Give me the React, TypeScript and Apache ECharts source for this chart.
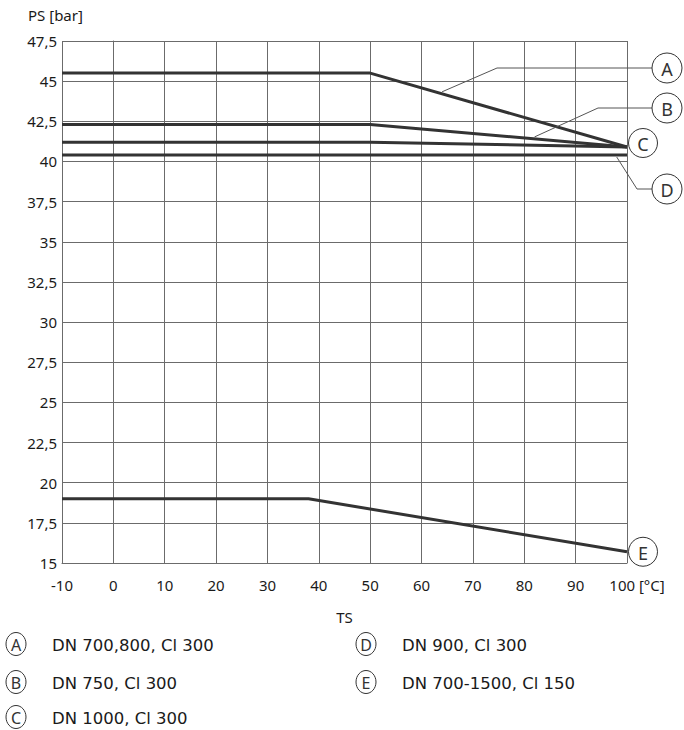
import React, { useEffect, useRef } from "react";
import * as echarts from "echarts";

const xTicks = [-10, 0, 10, 20, 30, 40, 50, 60, 70, 80, 90, 100];
const yTicks = [15, 17.5, 20, 22.5, 25, 27.5, 30, 32.5, 35, 37.5, 40, 42.5, 45, 47.5];

const seriesA = [[-10, 45.5], [50, 45.5], [100, 40.9]];
const seriesB = [[-10, 42.3], [50, 42.3], [100, 40.9]];
const seriesC = [[-10, 41.2], [50, 41.2], [100, 40.9]];
const seriesD = [[-10, 40.4], [100, 40.4]];
const seriesE = [[-10, 19.0], [38, 19.0], [100, 15.7]];

const seriesKeys = ["A", "B", "C", "D", "E"];
const seriesData = [seriesA, seriesB, seriesC, seriesD, seriesE];
const legendTexts = [
  "DN 700,800, Cl 300",
  "DN 750, Cl 300",
  "DN 1000, Cl 300",
  "DN 900, Cl 300",
  "DN 700-1500, Cl 150",
];
// x-values on each curve where the leader line of a callout starts
const leaderX = { A: 64, B: 82, D: 98 };

const FONT = "'Noto Sans', sans-serif";
const LFONT = "'DejaVu Sans', sans-serif";
const LINE = "#333333";
const GRID = "#6b6b6b";
const TXT = "#1a1a1a";

function fmt(v: number) {
  return String(v).replace(".", ",");
}

export default function App() {
  const ref = useRef<HTMLDivElement>(null);
  useEffect(() => {
    document.body.style.margin = "0";
    document.body.style.overflow = "hidden";
    if (!ref.current) return;
    const chart = echarts.init(ref.current, undefined, { renderer: "svg" });
    chart.setOption({
      animation: false,
      backgroundColor: "#ffffff",
      grid: { left: 62, top: 41, width: 565, height: 522, containLabel: false },
      xAxis: {
        type: "value",
        min: xTicks[0],
        max: xTicks[xTicks.length - 1],
        interval: 10,
        axisLine: { show: true, lineStyle: { color: GRID, width: 1 } },
        axisTick: { show: false },
        splitLine: { show: true, lineStyle: { color: GRID, width: 1 } },
        axisLabel: {
          margin: 14,
          fontFamily: FONT,
          fontSize: 15,
          color: TXT,
          formatter: (v: number) =>
            v === xTicks[xTicks.length - 1] ? "{u|" + v + " [°C]}" : String(v),
          rich: { u: { fontFamily: FONT, fontSize: 15, color: TXT, padding: [0, 0, 0, 20] } },
        },
        name: "TS",
        nameLocation: "middle",
        nameGap: 46,
        nameTextStyle: { fontFamily: FONT, fontSize: 15, color: TXT },
      },
      yAxis: {
        type: "value",
        min: yTicks[0],
        max: yTicks[yTicks.length - 1],
        interval: 2.5,
        axisLine: { show: true, lineStyle: { color: GRID, width: 1 } },
        axisTick: { show: false },
        splitLine: { show: true, lineStyle: { color: GRID, width: 1 } },
        axisLabel: {
          margin: 5,
          fontFamily: FONT,
          fontSize: 15,
          color: TXT,
          formatter: (v: number) => fmt(v),
        },
      },
      series: seriesData.map((d, i) => ({
        name: seriesKeys[i],
        type: "line",
        data: d,
        symbol: "none",
        lineStyle: { color: LINE, width: 3 },
        z: 3,
      })),
    });

    const px = (p: number[]) => chart.convertToPixel({ gridIndex: 0 }, p) as number[];
    const onLine = (d: number[][], x: number) => {
      for (let i = 0; i < d.length - 1; i++) {
        const [x0, y0] = d[i];
        const [x1, y1] = d[i + 1];
        if (x >= x0 && x <= x1) return y0 + ((x - x0) / (x1 - x0)) * (y1 - y0);
      }
      return d[d.length - 1][1];
    };

    const graphics: any[] = [];
    const leaderStyle = { stroke: "#555555", lineWidth: 1, fill: "none" };
    const callout = (cx: number, cy: number, letter: string, r = 15) => {
      graphics.push({
        type: "circle",
        shape: { cx, cy, r },
        style: { stroke: LINE, lineWidth: 1, fill: "#ffffff" },
        z: 10,
      });
      graphics.push({
        type: "text",
        x: cx,
        y: cy + 1,
        style: {
          text: letter,
          fontFamily: FONT,
          fontSize: 18,
          fill: "#333333",
          align: "center",
          verticalAlign: "middle",
        },
        z: 11,
      });
    };

    // A
    {
      const p = px([leaderX.A, onLine(seriesA, leaderX.A)]);
      graphics.push({
        type: "polyline",
        shape: { points: [[p[0], p[1] - 2], [497, 68], [652, 68]] },
        style: leaderStyle,
        z: 9,
      });
      callout(667, 68, "A");
    }
    // B
    {
      const p = px([leaderX.B, onLine(seriesB, leaderX.B)]);
      graphics.push({
        type: "polyline",
        shape: { points: [[p[0], p[1] - 2], [598, 108], [652, 108]] },
        style: leaderStyle,
        z: 9,
      });
      callout(667, 108, "B");
    }
    // C
    {
      const end = px(seriesC[seriesC.length - 1]);
      callout(end[0] + 16, end[1] - 4, "C", 14.5);
    }
    // D
    {
      const p = px([leaderX.D, onLine(seriesD, leaderX.D)]);
      graphics.push({
        type: "polyline",
        shape: { points: [[p[0], p[1] + 2], [637, 189], [652, 189]] },
        style: leaderStyle,
        z: 9,
      });
      callout(667, 189, "D");
    }
    // E
    {
      const end = px(seriesE[seriesE.length - 1]);
      callout(end[0] + 16, end[1], "E", 14.5);
    }

    // Legend below the chart
    const legendPos = [
      [16, 644],
      [16, 682],
      [16, 717],
      [366, 644],
      [366, 682],
    ];
    seriesKeys.forEach((k, i) => {
      const [cx, cy] = legendPos[i];
      graphics.push({
        type: "ellipse",
        shape: { cx, cy, rx: 10, ry: 11.5 },
        style: { stroke: LINE, lineWidth: 1, fill: "#ffffff" },
      });
      graphics.push({
        type: "text",
        x: cx,
        y: cy + 1,
        style: {
          text: k,
          fontFamily: FONT,
          fontSize: 16,
          fill: "#333333",
          align: "center",
          verticalAlign: "middle",
        },
      });
      graphics.push({
        type: "text",
        x: cx + 36,
        y: cy + 1,
        style: {
          text: legendTexts[i],
          fontFamily: LFONT,
          fontSize: 16.5,
          fill: TXT,
          align: "left",
          verticalAlign: "middle",
        },
      });
    });

    // Y axis title
    graphics.push({
      type: "text",
      x: 28,
      y: 15,
      style: {
        text: "PS [bar]",
        fontFamily: FONT,
        fontSize: 15,
        fill: TXT,
        align: "left",
        verticalAlign: "middle",
      },
    });

    chart.setOption({ graphic: graphics });
    return () => chart.dispose();
  }, []);

  return <div ref={ref} style={{ width: 684, height: 730 }} />;
}
